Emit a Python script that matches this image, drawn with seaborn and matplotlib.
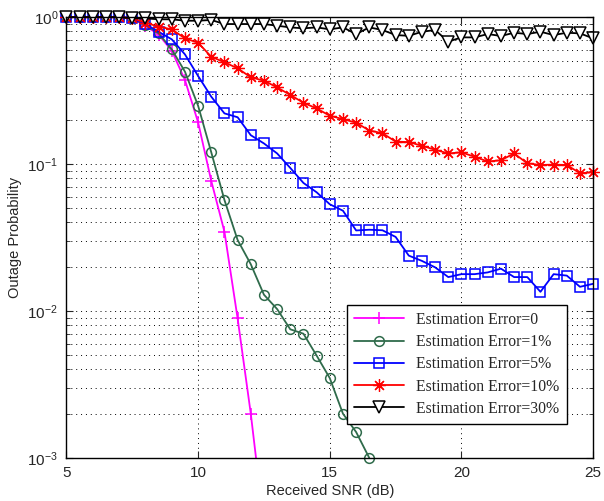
import matplotlib
matplotlib.use("Agg")
import matplotlib.pyplot as plt
import seaborn as sns
import pandas as pd
from matplotlib.ticker import LogLocator, NullFormatter

# received SNR grid (dB)
snr_db = [5, 5.5, 6, 6.5, 7, 7.5, 8, 8.5, 9, 9.5, 10, 10.5, 11, 11.5, 12, 12.5,
          13, 13.5, 14, 14.5, 15, 15.5, 16, 16.5, 17, 17.5, 18, 18.5, 19, 19.5,
          20, 20.5, 21, 21.5, 22, 22.5, 23, 23.5, 24, 24.5, 25]

# outage probability
err_0 = [1.0, 1.0, 1.0, 1.0, 1.0, 0.98, 0.87, 0.76, 0.59, 0.373, 0.192, 0.0766,
         0.0346, 0.0089, 0.0020, 0.00035]
err_1 = [1.0, 1.0, 1.0, 1.0, 1.0, 0.98, 0.88, 0.775, 0.603, 0.425, 0.249, 0.12,
         0.0569, 0.0304, 0.0208, 0.0129, 0.0103, 0.0075, 0.0070, 0.00497, 0.00349,
         0.0020, 0.0015, 0.0010]
err_5 = [1.0, 1.0, 1.0, 1.0, 1.0, 0.98, 0.896, 0.794, 0.705, 0.557, 0.397, 0.287,
         0.221, 0.208, 0.157, 0.138, 0.118, 0.094, 0.0743, 0.0642, 0.0532, 0.0481,
         0.0353, 0.0357, 0.0354, 0.0319, 0.0238, 0.0219, 0.0198, 0.017, 0.0178,
         0.0178, 0.0183, 0.0194, 0.017, 0.017, 0.0135, 0.0178, 0.0174, 0.0146, 0.0153]
err_10 = [1.0, 1.0, 1.0, 1.0, 1.0, 0.98, 0.915, 0.86, 0.825, 0.716, 0.668, 0.537,
          0.492, 0.448, 0.389, 0.369, 0.332, 0.295, 0.261, 0.239, 0.213, 0.202,
          0.191, 0.169, 0.162, 0.142, 0.141, 0.133, 0.125, 0.118, 0.12, 0.112,
          0.104, 0.106, 0.118, 0.101, 0.0985, 0.099, 0.0985, 0.0865, 0.088]
err_30 = [1.0, 1.0, 1.0, 1.0, 1.0, 0.98, 0.98, 0.965, 0.965, 0.944, 0.944, 0.955,
          0.896, 0.896, 0.896, 0.896, 0.873, 0.85, 0.838, 0.85, 0.825, 0.85, 0.766,
          0.85, 0.816, 0.754, 0.745, 0.794, 0.816, 0.68, 0.727, 0.727, 0.766, 0.743,
          0.782, 0.766, 0.794, 0.754, 0.782, 0.774, 0.716]

labels = ["Estimation Error=0", "Estimation Error=1%", "Estimation Error=5%",
          "Estimation Error=10%", "Estimation Error=30%"]

sns.set_style("ticks")
plt.rcParams["font.family"] = ["Liberation Sans", "DejaVu Sans"]

fig = plt.figure(figsize=(6.04, 5.01), dpi=100)
ax = fig.add_axes([0.110, 0.086, 0.872, 0.880])

asterisk = (8, 2, 0)
series = [
    (err_0, "#ff00ff", "+", dict(markersize=9, markeredgewidth=1.1)),
    (err_1, "#2f6b4b", "o", dict(markersize=7, markerfacecolor="none",
                                 markeredgewidth=1.1, clip_on=False)),
    (err_5, "#0000ff", "s", dict(markersize=7, markerfacecolor="none",
                                 markeredgewidth=1.1, clip_on=False)),
    (err_10, "#ff0000", asterisk, dict(markersize=9, markeredgewidth=0.9, clip_on=False)),
    (err_30, "#000000", "v", dict(markersize=9, markerfacecolor="white",
                                  markeredgewidth=1.1, clip_on=False)),
]

for (vals, col, mk, kw), lab in zip(series, labels):
    df = pd.DataFrame({"snr": snr_db[:len(vals)], "p": vals})
    sns.lineplot(data=df, x="snr", y="p", ax=ax, color=col, marker=mk,
                 markeredgecolor=col, linewidth=1.3,
                 errorbar=None, label=lab, **kw)

ax.set_yscale("log")
ax.set_xlim(5, 25)
ax.set_ylim(1e-3, 1)
ax.set_xticks([5, 10, 15, 20, 25])
ax.yaxis.set_minor_locator(LogLocator(base=10, subs=range(2, 10)))
ax.yaxis.set_minor_formatter(NullFormatter())

dot = (0, (1, 4))
ax.grid(True, which="major", axis="both", color="k", linestyle=dot, linewidth=0.7)
ax.grid(True, which="minor", axis="y", color="k", linestyle=dot, linewidth=0.7)
ax.tick_params(which="both", direction="in", top=True, right=True, labelsize=11)
ax.tick_params(which="major", length=5, pad=6)
ax.tick_params(which="minor", length=3)
for s in ax.spines.values():
    s.set_linewidth(1.0)
    s.set_color("k")

ax.set_xlabel("Received SNR (dB)", fontsize=10.5, labelpad=3)
ax.set_ylabel("Outage Probability", fontsize=10.5, labelpad=4)

leg = ax.legend(loc="lower left", bbox_to_anchor=(0.532, 0.077), borderaxespad=0,
                fancybox=False, edgecolor="k", framealpha=1, handlelength=3.2,
                borderpad=0.45, labelspacing=0.4,
                prop={"family": "Liberation Serif", "size": 11.3})
leg.get_frame().set_linewidth(1.0)

fig.savefig("out.png", dpi=100)
